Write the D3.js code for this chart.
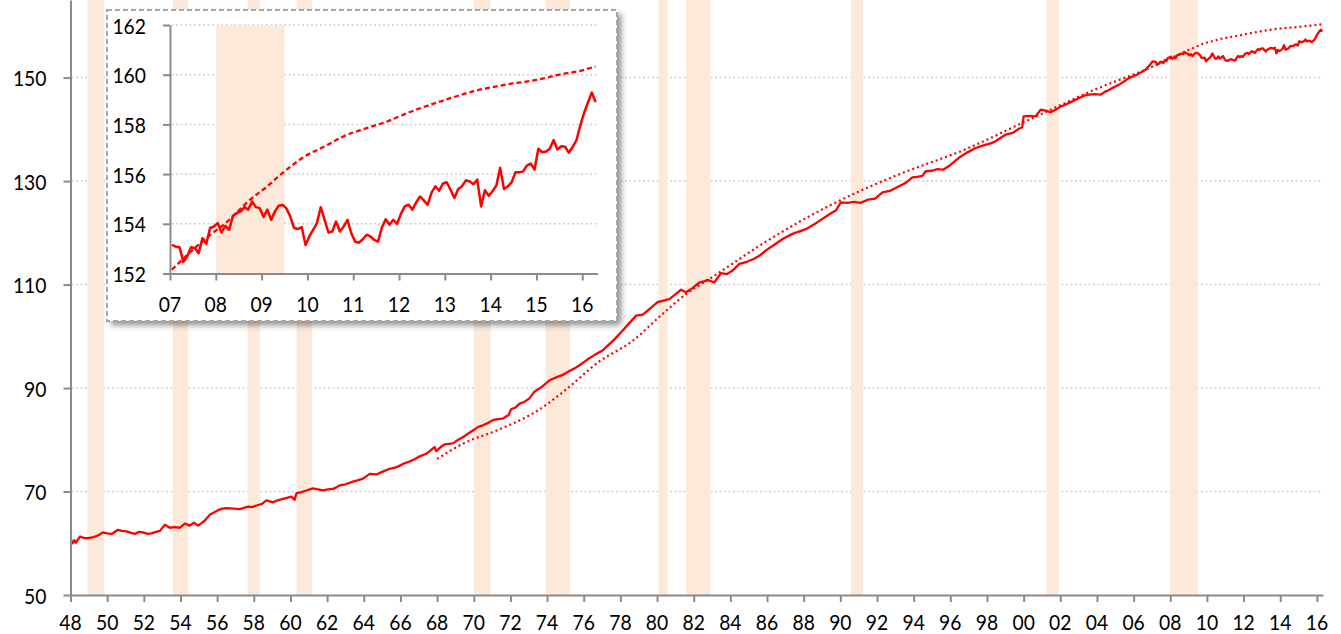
<!DOCTYPE html>
<html><head><meta charset="utf-8">
<script src="https://cdn.jsdelivr.net/npm/d3@7"></script>
<style>
html,body{margin:0;padding:0;background:#fff;}
svg{display:block;}
text{font-family:Lato,"Open Sans",sans-serif;fill:#000;}
</style></head><body>
<svg id="chart" width="1341" height="634"></svg>
<script>
// ---- DATA ----
// Civilian labor force (millions), main chart, [decimal year, value] up to end-2006
const laborForceMain = [
[1948.04,60.5],[1948.12,60.0],[1948.2,60.6],[1948.29,60.1],[1948.52,61.3],[1948.75,61.0],[1948.97,61.0],
[1949.25,61.2],[1949.5,61.5],[1949.77,62.1],[1950.0,61.9],[1950.25,61.8],[1950.59,62.6],[1950.8,62.4],
[1951.06,62.3],[1951.3,62.0],[1951.5,61.8],[1951.75,62.2],[1951.95,62.1],[1952.2,61.8],[1952.42,61.9],
[1952.65,62.2],[1952.88,62.4],[1953.15,63.6],[1953.42,63.0],[1953.7,63.1],[1953.97,63.0],[1954.24,63.8],
[1954.51,63.4],[1954.73,64.0],[1954.96,63.4],[1955.15,63.9],[1955.33,64.4],[1955.6,65.5],[1955.85,66.0],
[1956.05,66.4],[1956.3,66.7],[1956.51,66.8],[1956.9,66.7],[1957.24,66.6],[1957.5,66.9],[1957.69,67.1],
[1957.9,67.0],[1958.15,67.3],[1958.45,67.6],[1958.69,68.3],[1959.05,67.9],[1959.3,68.3],[1959.6,68.6],
[1959.85,68.8],[1960.05,69.0],[1960.23,68.4],[1960.33,69.7],[1960.6,69.9],[1960.87,70.2],[1961.05,70.4],
[1961.23,70.6],[1961.5,70.4],[1961.78,70.2],[1962.05,70.4],[1962.32,70.5],[1962.5,70.8],[1962.69,71.2],
[1963.0,71.4],[1963.41,71.9],[1963.7,72.2],[1963.96,72.5],[1964.32,73.4],[1964.69,73.3],[1965.0,73.8],
[1965.41,74.4],[1965.7,74.6],[1965.96,75.0],[1966.25,75.5],[1966.5,75.8],[1966.8,76.3],[1967.05,76.8],
[1967.41,77.3],[1967.6,77.8],[1967.86,78.6],[1967.96,77.8],[1968.2,78.6],[1968.41,79.1],[1968.86,79.3],
[1969.15,80.0],[1969.41,80.5],[1969.7,81.2],[1969.95,81.8],[1970.25,82.5],[1970.5,82.8],[1970.8,83.3],
[1971.04,83.8],[1971.3,84.0],[1971.59,84.1],[1971.9,84.8],[1972.04,85.9],[1972.3,86.3],[1972.5,87.0],
[1972.75,87.3],[1973.04,88.0],[1973.31,89.3],[1973.7,90.2],[1974.13,91.5],[1974.6,92.2],[1974.9,92.6],
[1975.22,93.3],[1975.5,93.8],[1975.77,94.4],[1976.2,95.5],[1976.68,96.6],[1977.0,97.2],[1977.4,98.5],
[1977.7,99.5],[1978.04,100.8],[1978.45,102.4],[1978.86,104.0],[1979.22,104.2],[1979.6,105.3],[1980.03,106.6],
[1980.35,106.9],[1980.67,107.2],[1981.0,108.1],[1981.31,109.0],[1981.58,108.5],[1981.9,109.2],[1982.31,110.4],
[1982.55,110.6],[1982.76,110.9],[1983.12,110.4],[1983.49,112.2],[1983.8,112.0],[1984.12,112.7],[1984.49,114.0],
[1984.9,114.4],[1985.3,115.0],[1985.6,115.6],[1985.94,116.6],[1986.4,117.7],[1986.85,118.8],[1987.39,119.8],
[1987.7,120.2],[1988.12,120.7],[1988.6,121.7],[1989.02,122.7],[1989.4,123.6],[1989.75,124.3],[1990.03,125.9],
[1990.4,125.8],[1990.75,126.0],[1991.1,125.8],[1991.5,126.4],[1991.9,126.6],[1992.3,127.8],[1992.7,128.1],
[1993.2,129.0],[1993.55,129.6],[1993.93,130.7],[1994.2,130.8],[1994.47,131.0],[1994.66,131.9],[1995.0,132.0],
[1995.29,132.3],[1995.6,132.2],[1995.93,132.9],[1996.2,133.7],[1996.47,134.5],[1996.9,135.5],[1997.38,136.4],
[1997.9,137.0],[1998.2,137.3],[1998.47,137.7],[1999.02,139.0],[1999.4,139.3],[1999.74,140.1],[1999.92,140.4],
[2000.0,142.5],[2000.3,142.6],[2000.65,142.5],[2000.93,143.8],[2001.2,143.6],[2001.47,143.3],[2001.8,143.9],
[2002.01,144.4],[2002.3,144.8],[2002.65,145.4],[2003.01,146.0],[2003.3,146.5],[2003.56,146.7],[2003.9,146.8],
[2004.2,146.7],[2004.45,147.3],[2004.65,147.6],[2004.95,148.2],[2005.19,148.6],[2005.5,149.3],[2005.74,149.9],
[2006.2,150.6],[2006.65,151.5],[2006.92,152.6]
];
// Monthly values Jan 2007 - Apr 2016 (inset, also the tail of the main line)
const insetStartYear = 2007;
const laborForceMonthly = [
153.15,153.08,153.06,152.46,152.68,153.06,153.02,152.82,153.42,153.19,153.83,153.89,
154.03,153.65,153.92,153.76,154.32,154.43,154.50,154.67,154.57,154.90,154.67,154.63,
154.27,154.57,154.16,154.50,154.73,154.76,154.62,154.30,153.83,153.79,153.87,153.15,
153.49,153.76,154.03,154.67,154.16,153.65,153.69,154.09,153.69,153.89,154.16,153.62,
153.28,153.24,153.38,153.56,153.49,153.35,153.28,153.85,154.18,153.96,154.16,154.00,
154.40,154.70,154.77,154.57,154.86,155.10,154.94,154.76,155.24,155.51,155.33,155.62,
155.67,155.37,155.04,155.40,155.51,155.75,155.70,155.59,155.78,154.70,155.35,155.13,
155.31,155.54,156.25,155.40,155.51,155.67,156.07,156.07,156.11,156.34,156.42,156.18,
157.02,156.88,156.91,157.02,157.37,156.99,157.12,157.10,156.86,157.10,157.37,157.96,
158.47,158.88,159.28,158.90
];
// Trend line (dotted in main chart, dashed in inset), [decimal year, value]
const trendLine = [
[1968.0,76.3],[1969.5,79.4],[1971.4,82.0],[1973.6,85.9],[1975.0,89.6],[1976.8,95.0],[1978.7,99.2],
[1980.2,104.0],[1981.6,108.2],[1983.0,111.4],[1985.9,118.2],[1989.6,125.6],[1993.2,131.3],[1996.8,136.1],
[2000.5,142.2],[2004.1,148.0],[2007.04,152.15],[2007.88,153.56],[2008.17,153.96],[2008.75,154.97],
[2009.08,155.44],[2009.5,156.11],[2009.95,156.72],[2010.38,157.12],[2010.8,157.53],[2011.26,157.83],
[2011.7,158.09],[2012.2,158.47],[2012.93,158.94],[2013.66,159.35],[2014.4,159.62],[2015.0,159.79],
[2015.55,160.02],[2015.84,160.11],[2016.29,160.33]
];
// Recession shading (decimal years)
const recessionStarts = [1948.917,1953.583,1957.667,1960.333,1970.0,1973.917,1980.083,1981.583,1990.583,2001.25,2008.0];
const recessionEnds   = [1949.833,1954.417,1958.333,1961.167,1970.917,1975.25,1980.583,1982.917,1991.25,2001.917,2009.5];
// Ticks
const mainXTickYears = [1948,1950,1952,1954,1956,1958,1960,1962,1964,1966,1968,1970,1972,1974,1976,1978,1980,1982,1984,1986,1988,1990,1992,1994,1996,1998,2000,2002,2004,2006,2008,2010,2012,2014,2016];
const mainXTickLabels = ["48","50","52","54","56","58","60","62","64","66","68","70","72","74","76","78","80","82","84","86","88","90","92","94","96","98","00","02","04","06","08","10","12","14","16"];
const mainYTicks = [50,70,90,110,130,150];
const insetXTickYears = [2007,2008,2009,2010,2011,2012,2013,2014,2015,2016];
const insetXTickLabels = ["07","08","09","10","11","12","13","14","15","16"];
const insetYTicks = [152,154,156,158,160,162];

// ---- DRAWING ----
const svg = d3.select("#chart");
const RED = "#ff0000", AXIS = "#8a8a8a", GRID = "#cfcfcf", BAND = "#fce9da";
const FS = 21, SX = 0.92;

const defs = svg.append("defs");
const f = defs.append("filter").attr("id","shadow").attr("x","-5%").attr("y","-5%").attr("width","115%").attr("height","115%");
f.append("feDropShadow").attr("dx",4).attr("dy",4).attr("stdDeviation",3).attr("flood-color","#000").attr("flood-opacity",0.45);

const monthly = laborForceMonthly.map((v,i)=>[insetStartYear + (i+0.5)/12, v]);

// main scales
const x = d3.scaleLinear().domain([1948, 2016.333]).range([70.5, 1323]);
const y = d3.scaleLinear().domain([50, 165]).range([595, 0]);

function label(g, px, py, txt, anchor){
  g.append("text").attr("transform",`translate(${px},${py}) scale(${SX},1)`)
    .attr("text-anchor",anchor).attr("font-size",FS).text(txt);
}

// gridlines
const gm = svg.append("g");
gm.selectAll("line").data(mainYTicks.filter(t=>t>50)).join("line")
  .attr("x1",x.range()[0]+1).attr("x2",x.range()[1]).attr("y1",d=>y(d)).attr("y2",d=>y(d))
  .attr("stroke",GRID).attr("stroke-width",1.5).attr("stroke-dasharray","2,2.5");

// recession bands
svg.append("g").selectAll("rect").data(recessionStarts).join("rect")
  .attr("x",d=>x(d)).attr("width",(d,i)=>x(recessionEnds[i])-x(d))
  .attr("y",0).attr("height",y(50)).attr("fill",BAND);

// main lines
const line = d3.line().x(d=>x(d[0])).y(d=>y(d[1]));
svg.append("path").datum(trendLine).attr("d",line.curve(d3.curveMonotoneX))
  .attr("fill","none").attr("stroke",RED).attr("stroke-width",2.2).attr("stroke-dasharray","2,3");
svg.append("path").datum(laborForceMain.concat(monthly)).attr("d",d3.line().x(d=>x(d[0])).y(d=>y(d[1])))
  .attr("fill","none").attr("stroke",RED).attr("stroke-width",2.3).attr("stroke-linejoin","round");

// main axes
const xa = svg.append("g").attr("transform",`translate(0,${y(50)})`)
  .call(d3.axisBottom(x).tickValues(mainXTickYears).tickSize(7).tickSizeOuter(0).tickFormat(""));
const ya = svg.append("g").attr("transform",`translate(${x(1948)},0)`)
  .call(d3.axisLeft(y).tickValues(mainYTicks).tickSize(7).tickSizeOuter(0).tickFormat(""));
[xa,ya].forEach(a=>{a.selectAll("path,line").attr("stroke",AXIS).attr("stroke-width",2);});
const lm = svg.append("g");
mainXTickYears.forEach((t,i)=>label(lm, x(t), y(50)+35, mainXTickLabels[i], "middle"));
mainYTicks.forEach(t=>label(lm, x(1948)-24, y(t)+8.5, String(t), "end"));

// ---- INSET ----
const ix = d3.scaleLinear().domain([2007, 2016.333]).range([170, 597.5]);
const iy = d3.scaleLinear().domain([152, 162]).range([273.5, 25]);
const ins = svg.append("g");
ins.append("rect").attr("x",107).attr("y",10).attr("width",510).attr("height",311)
  .attr("fill","#fff").attr("filter","url(#shadow)");
ins.append("rect").attr("x",107).attr("y",10).attr("width",510).attr("height",311)
  .attr("fill","none").attr("stroke","#a6a6a6").attr("stroke-width",2).attr("stroke-dasharray","5,3");
ins.selectAll("line.grid").data(insetYTicks.filter(t=>t>152)).join("line").attr("class","grid")
  .attr("x1",ix.range()[0]+1.5).attr("x2",ix.range()[1]).attr("y1",d=>iy(d)).attr("y2",d=>iy(d))
  .attr("stroke",GRID).attr("stroke-width",1.5).attr("stroke-dasharray","2,2.5");
ins.selectAll("rect.band").data(recessionStarts.filter(s=>s>=2007)).join("rect").attr("class","band")
  .attr("x",d=>ix(d)).attr("width",d=>ix(recessionEnds[recessionStarts.indexOf(d)])-ix(d))
  .attr("y",iy(162)).attr("height",iy(152)-iy(162)).attr("fill",BAND);
const iline = d3.line().x(d=>ix(d[0])).y(d=>iy(d[1]));
ins.append("path").datum(trendLine.filter(d=>d[0]>=2007)).attr("d",iline.curve(d3.curveMonotoneX))
  .attr("fill","none").attr("stroke",RED).attr("stroke-width",2.3).attr("stroke-dasharray","5,3");
ins.append("path").datum(monthly).attr("d",d3.line().x(d=>ix(d[0])).y(d=>iy(d[1])))
  .attr("fill","none").attr("stroke",RED).attr("stroke-width",2.5).attr("stroke-linejoin","round");
const ixa = ins.append("g").attr("transform",`translate(0,${iy(152)})`)
  .call(d3.axisBottom(ix).tickValues(insetXTickYears).tickSize(7).tickSizeOuter(0).tickFormat(""));
const iya = ins.append("g").attr("transform",`translate(${ix(2007)},0)`)
  .call(d3.axisLeft(iy).tickValues(insetYTicks).tickSize(7).tickSizeOuter(0).tickFormat(""));
[ixa,iya].forEach(a=>{a.selectAll("path,line").attr("stroke",AXIS).attr("stroke-width",2);});
insetXTickYears.forEach((t,i)=>label(ins, ix(t), iy(152)+38, insetXTickLabels[i], "middle"));
insetYTicks.forEach(t=>label(ins, ix(2007)-24, iy(t)+8.5, String(t), "end"));
</script>
</body></html>
